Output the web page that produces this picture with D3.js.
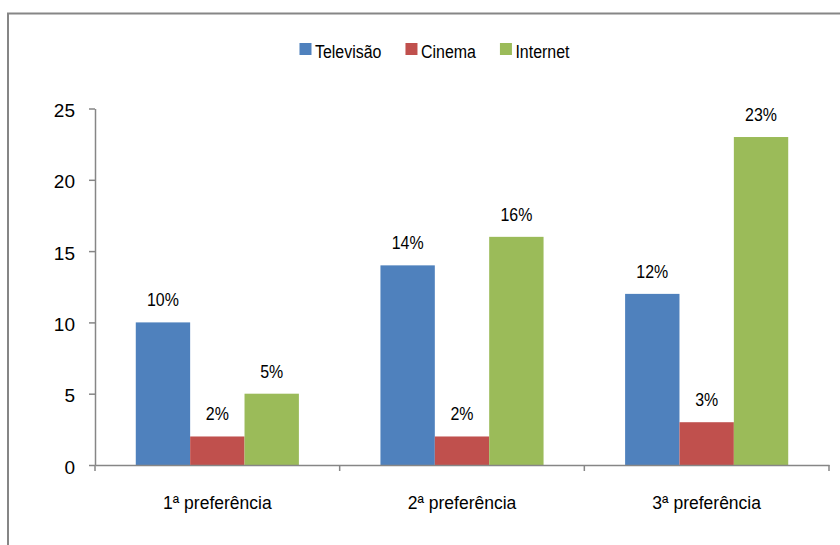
<!DOCTYPE html>
<html>
<head>
<meta charset="utf-8">
<script src="https://cdn.jsdelivr.net/npm/d3@7"></script>
<style>
  body { margin: 0; background: #fff; }
  svg { display: block; }
</style>
</head>
<body>
<svg id="chart" width="840" height="545"></svg>
<script>
// Preference survey: share of respondents per medium, by rank of preference
const categories = ["1ª preferência", "2ª preferência", "3ª preferência"];
const seriesNames = ["Televisão", "Cinema", "Internet"];
const televisao = [10, 14, 12];
const cinema = [2, 2, 3];
const internet = [5, 16, 23];
const yTicks = [0, 5, 10, 15, 20, 25];
const seriesColors = ["#4F81BD", "#C0504D", "#9BBB59"];

const seriesValues = [televisao, cinema, internet];
const rows = categories.map((c, i) => ({
  category: c,
  values: seriesNames.map((s, j) => ({ series: s, value: seriesValues[j][i] }))
}));

const svg = d3.select("#chart");
const axisColor = "#868686";

// Pick a condensed face for legend and data labels, falling back to a squeezed regular face
function fontAvailable(family) {
  const ctx = document.createElement("canvas").getContext("2d");
  const sample = "Televisão Cinema Internet 0123%";
  ctx.font = "20px monospace";
  const base = ctx.measureText(sample).width;
  ctx.font = `20px "${family}", monospace`;
  return ctx.measureText(sample).width !== base;
}
const hasNarrow = fontAvailable("Liberation Sans Narrow");
const narrowFamily = hasNarrow ? "'Liberation Sans Narrow'" : "'Liberation Sans', Arial, sans-serif";
const narrowScale = hasNarrow ? 1 : 0.84;
const regularFamily = "'Liberation Sans', Arial, sans-serif";

function narrowText(sel, x, y, str, size, anchor) {
  return sel.append("text")
    .attr("transform", `translate(${x},${y}) scale(${narrowScale},1)`)
    .attr("text-anchor", anchor)
    .style("font-family", narrowFamily)
    .style("font-size", size + "px")
    .attr("fill", "#000")
    .text(str);
}

// Outer chart frame
svg.append("rect")
  .attr("x", 8).attr("y", 13.5)
  .attr("width", 900).attr("height", 600)
  .attr("fill", "none")
  .attr("stroke", axisColor)
  .attr("stroke-width", 2);

// Scales
const x = d3.scaleBand().domain(categories).range([95, 829]).paddingInner(0).paddingOuter(0);
const xs = d3.scaleBand().domain(seriesNames).range([0, x.bandwidth()]).paddingInner(0).paddingOuter(0.75);
const y = d3.scaleLinear().domain([0, 25]).range([465, 108.5]);
const color = d3.scaleOrdinal().domain(seriesNames).range(seriesColors);

// Bars
const groups = svg.append("g").selectAll("g")
  .data(rows)
  .join("g")
  .attr("transform", d => `translate(${x(d.category)},0)`);

groups.selectAll("rect")
  .data(d => d.values)
  .join("rect")
  .attr("x", d => xs(d.series))
  .attr("y", d => y(d.value))
  .attr("width", xs.bandwidth())
  .attr("height", d => y(0) - y(d.value))
  .attr("fill", d => color(d.series));

// Value labels above bars
groups.each(function (d) {
  const g = d3.select(this);
  d.values.forEach(v => {
    narrowText(g, xs(v.series) + xs.bandwidth() / 2, y(v.value) - 16, v.value + "%", 19, "middle");
  });
});

// Y axis
const yAxis = svg.append("g")
  .attr("transform", "translate(95,0)")
  .call(d3.axisLeft(y).tickValues(yTicks).tickSize(6).tickSizeOuter(0).tickPadding(14).tickFormat(d3.format("d")));
yAxis.select(".domain").attr("stroke", axisColor).attr("stroke-width", 1.5);
yAxis.selectAll(".tick line").attr("stroke", axisColor).attr("stroke-width", 1.5);
yAxis.selectAll(".tick text")
  .attr("y", 2)
  .attr("fill", "#000")
  .style("font-family", regularFamily)
  .style("font-size", "19px");

// X axis with category labels
const xAxis = svg.append("g")
  .attr("transform", "translate(0,465)")
  .call(d3.axisBottom(x).tickSize(0).tickSizeOuter(0));
xAxis.select(".domain").attr("stroke", axisColor).attr("stroke-width", 1.5);
xAxis.selectAll(".tick text")
  .attr("y", 44)
  .attr("dy", null)
  .attr("fill", "#000")
  .style("font-family", regularFamily)
  .style("font-size", "17.5px");

// Category boundary ticks
const boundaries = categories.map(c => x(c)).concat([x.range()[1]]);
xAxis.selectAll("line.boundary")
  .data(boundaries)
  .join("line")
  .attr("class", "boundary")
  .attr("x1", d => d).attr("x2", d => d)
  .attr("y1", 0).attr("y2", 6)
  .attr("stroke", axisColor)
  .attr("stroke-width", 1.5);

// Legend
const legend = svg.append("g");
const legendItems = seriesNames.map(name => {
  const g = legend.append("g");
  g.append("rect").attr("x", 0).attr("y", -15).attr("width", 12).attr("height", 12).attr("fill", color(name));
  const t = narrowText(g, 15.5, 0, name, 19, "start");
  const w = 15.5 + t.node().getComputedTextLength() * narrowScale;
  return { g, w };
});
const legendGap = 24;
const legendWidth = d3.sum(legendItems, d => d.w) + legendGap * (legendItems.length - 1);
let lx = 434.5 - legendWidth / 2;
legendItems.forEach(item => {
  item.g.attr("transform", `translate(${lx},58)`);
  lx += item.w + legendGap;
});
</script>
</body>
</html>
